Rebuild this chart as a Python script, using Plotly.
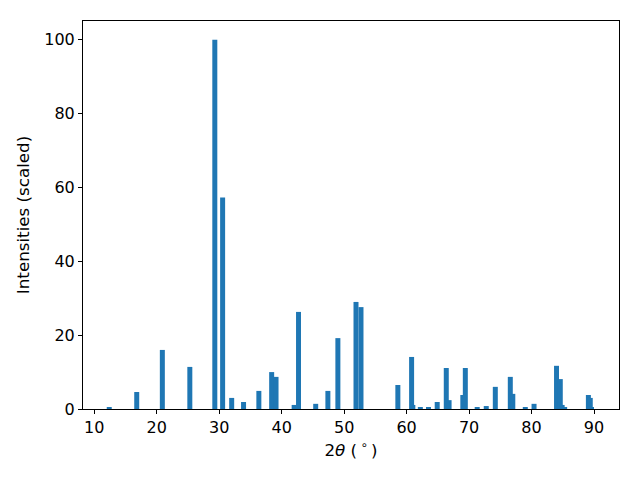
import plotly.graph_objects as go

two_theta = [12.4, 16.8, 20.9, 25.3, 29.3, 30.55, 32.0, 33.9, 36.35, 38.4, 39.1,
             42.0, 42.7, 45.45, 47.4, 49.0, 51.9, 52.7, 58.6, 60.8, 61.0, 62.2,
             63.5, 64.9, 66.35, 66.8, 69.0, 69.4, 71.3, 72.75, 74.2, 76.6, 77.0,
             79.0, 80.4, 84.0, 84.6, 84.9, 85.3, 89.1, 89.4, 89.6]
intensity = [0.3, 4.6, 16.0, 11.4, 100.0, 57.3, 3.0, 1.9, 4.9, 10.0, 8.7,
             1.1, 26.3, 1.4, 4.9, 19.2, 29.0, 27.6, 6.5, 14.1, 1.1, 0.3,
             0.3, 1.9, 11.1, 2.4, 3.8, 11.1, 0.3, 0.8, 6.0, 8.7, 4.1,
             0.5, 1.4, 11.7, 8.1, 1.1, 0.3, 3.8, 3.0, 0.3]
x_ticks = [10, 20, 30, 40, 50, 60, 70, 80, 90]
y_ticks = [0, 20, 40, 60, 80, 100]

fig = go.Figure(go.Bar(
    x=two_theta, y=intensity, width=[0.8] * len(two_theta),
    marker=dict(color="#1f77b4", line=dict(width=0)),
))

axis_common = dict(
    showgrid=False, zeroline=False, showline=True, linecolor="black", linewidth=1,
    mirror=True, ticks="outside", ticklen=4, tickwidth=1, tickcolor="black",
    tickfont=dict(family="DejaVu Sans", size=16, color="black"),
    automargin=False,
)
title_font = dict(family="DejaVu Sans", size=16.7, color="black")

fig.update_layout(
    width=632, height=472,
    margin=dict(l=75, r=21, t=13, b=71),
    paper_bgcolor="white", plot_bgcolor="white",
    showlegend=False,
    font=dict(family="DejaVu Sans", size=16, color="black"),
    xaxis=dict(range=[8.2, 94.0], tickvals=x_ticks,
               title=dict(text="2<i>θ</i> (\u2009<sup>∘</sup>\u2009)", standoff=8, font=title_font),
               **axis_common),
    yaxis=dict(range=[0, 105.1], tickvals=y_ticks,
               title=dict(text="Intensities (scaled)", standoff=10, font=title_font),
               **axis_common),
)

fig.write_html("out.html")
